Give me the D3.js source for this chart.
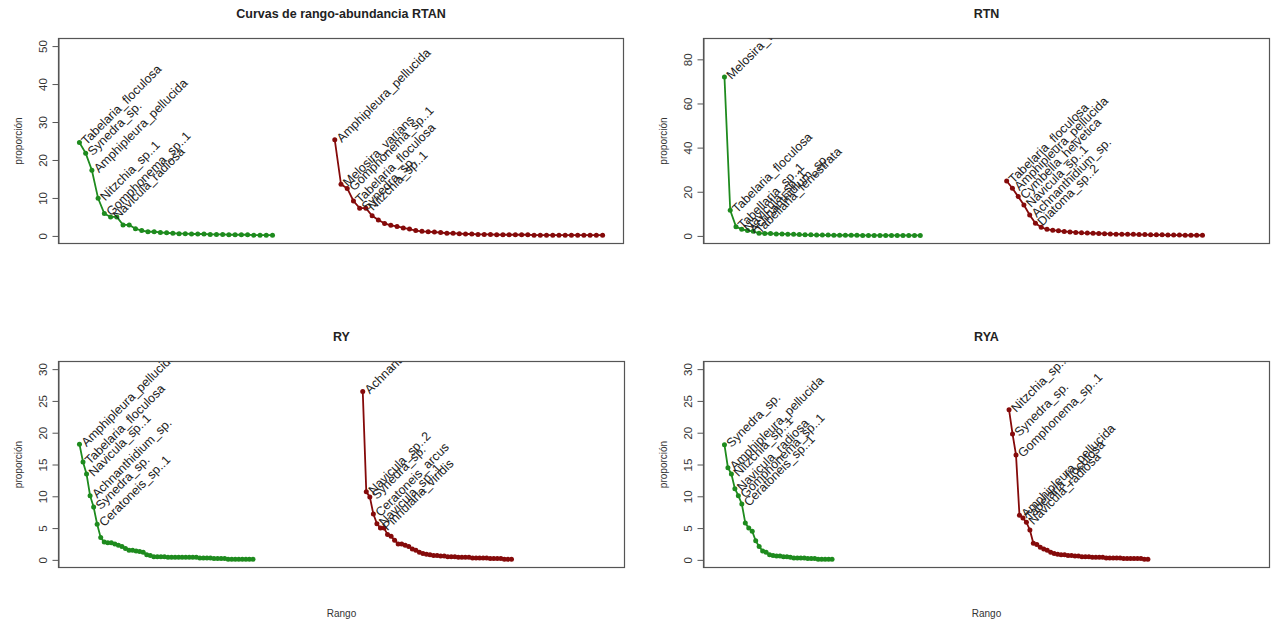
<!DOCTYPE html>
<html>
<head>
<meta charset="utf-8">
<script src="https://cdn.jsdelivr.net/npm/d3@7"></script>
<style>
  html, body { margin: 0; padding: 0; background: #fff; }
  svg { display: block; font-family: "Liberation Sans", Arial, sans-serif; }
</style>
</head>
<body>
<svg id="chart" width="1273" height="624"></svg>
<script>
// ---------------- DATA ----------------
const panelTitles = ["Curvas de rango-abundancia RTAN", "RTN", "RY", "RYA"];
const yTicksRTAN = [0, 10, 20, 30, 40, 50];
const yTicksRTN = [0, 20, 40, 60, 80];
const yTicksRY = [0, 5, 10, 15, 20, 25, 30];
const yTicksRYA = [0, 5, 10, 15, 20, 25, 30];

// RTAN
const rtanGreen = [24.6, 21.8, 17.3, 9.9, 5.9, 5.0, 5.0, 2.9, 2.9, 1.9, 1.4, 1.1, 1.1, 0.9, 0.8, 0.7, 0.6, 0.6, 0.5, 0.5, 0.5, 0.4, 0.4, 0.4, 0.3, 0.3, 0.3, 0.3, 0.2, 0.2, 0.2, 0.2];
const rtanRed = [25.3, 13.6, 12.5, 9.2, 7.3, 7.3, 5.3, 4.2, 3.3, 2.8, 2.5, 2.1, 1.8, 1.4, 1.2, 1.1, 1.0, 0.9, 0.7, 0.7, 0.6, 0.5, 0.5, 0.4, 0.4, 0.4, 0.3, 0.3, 0.3, 0.3, 0.3, 0.3, 0.2, 0.2, 0.2, 0.2, 0.2, 0.2, 0.2, 0.2, 0.2, 0.2, 0.2, 0.2];
const rtanGreenLabels = ["Tabelaria_floculosa", "Synedra_sp.", "Amphipleura_pellucida", "Nitzchia_sp..1", "Gomphonema_sp..1", "Navicula_radiosa"];
const rtanRedLabels = ["Amphipleura_pellucida", "Melosira_varians", "Gomphonema_sp..1", "Tabelaria_floculosa", "Synedra_sp.", "Nitzchia_sp..1"];

// RTN
const rtnGreen = [72.0, 11.6, 4.2, 3.0, 2.4, 2.1, 1.2, 1.1, 1.1, 0.9, 0.9, 0.8, 0.7, 0.6, 0.5, 0.5, 0.4, 0.4, 0.4, 0.3, 0.3, 0.3, 0.3, 0.3, 0.2, 0.2, 0.2, 0.2, 0.2, 0.2, 0.2, 0.2, 0.2, 0.2, 0.2];
const rtnRed = [24.9, 21.6, 17.8, 14.0, 9.5, 5.7, 3.9, 3.0, 2.6, 2.3, 2.0, 1.8, 1.6, 1.4, 1.3, 1.2, 1.1, 1.0, 0.9, 0.8, 0.8, 0.7, 0.7, 0.6, 0.6, 0.5, 0.5, 0.5, 0.4, 0.4, 0.4, 0.3, 0.3, 0.3, 0.3];
const rtnGreenLabels = ["Melosira_varians", "Tabelaria_floculosa", "Tabellaria_sp..1", "Navicula_sp..1", "Achnanthidium_sp.", "Tabellaria_fenestrata"];
const rtnRedLabels = ["Tabelaria_floculosa", "Amphipleura_pellucida", "Cymbella_helvetica", "Navicula_sp..1", "Achnanthidium_sp.", "Diatoma_sp..2"];

// RY
const ryGreen = [18.2, 15.4, 13.5, 10.1, 8.3, 5.6, 3.5, 2.8, 2.7, 2.7, 2.5, 2.3, 2.1, 1.8, 1.5, 1.5, 1.4, 1.3, 1.2, 0.8, 0.7, 0.5, 0.5, 0.5, 0.5, 0.4, 0.4, 0.4, 0.4, 0.4, 0.4, 0.4, 0.4, 0.4, 0.3, 0.3, 0.3, 0.3, 0.2, 0.2, 0.2, 0.2, 0.1, 0.1, 0.1, 0.1, 0.1, 0.1, 0.1, 0.1];
const ryRed = [26.5, 10.7, 9.9, 7.2, 5.7, 5.0, 5.0, 4.0, 3.7, 3.1, 2.5, 2.5, 2.3, 2.1, 1.7, 1.5, 1.2, 1.0, 0.9, 0.8, 0.7, 0.7, 0.6, 0.6, 0.5, 0.5, 0.5, 0.4, 0.4, 0.4, 0.4, 0.3, 0.3, 0.3, 0.3, 0.3, 0.2, 0.2, 0.2, 0.2, 0.1, 0.1, 0.1];
const ryGreenLabels = ["Amphipleura_pellucida", "Tabelaria_floculosa", "Navicula_sp..1", "Achnanthidium_sp.", "Synedra_sp.", "Ceratoneis_sp..1"];
const ryRedLabels = ["Achnanthidium_sp.", "Navicula_sp..2", "Synedra_sp.", "Ceratoneis_arcus", "Navicula_sp..1", "Pinnularia_viridis"];

// RYA
const ryaGreen = [18.1, 14.5, 13.5, 11.2, 10.1, 8.8, 5.8, 5.0, 4.5, 3.0, 2.1, 1.4, 1.2, 0.8, 0.7, 0.6, 0.6, 0.5, 0.5, 0.4, 0.3, 0.3, 0.3, 0.3, 0.2, 0.2, 0.2, 0.1, 0.1, 0.1, 0.1, 0.1];
const ryaRed = [23.6, 19.8, 16.5, 7.0, 6.6, 5.9, 4.7, 2.6, 2.4, 2.0, 1.7, 1.5, 1.2, 1.0, 0.9, 0.8, 0.8, 0.7, 0.7, 0.6, 0.6, 0.5, 0.5, 0.5, 0.4, 0.4, 0.4, 0.4, 0.3, 0.3, 0.3, 0.3, 0.3, 0.2, 0.2, 0.2, 0.2, 0.2, 0.2, 0.1, 0.1];
const ryaGreenLabels = ["Synedra_sp.", "Amphipleura_pellucida", "Nitzchia_sp..1", "Navicula_radiosa", "Gomphonema_sp..1", "Ceratoneis_sp..1"];
const ryaRedLabels = ["Nitzchia_sp..1", "Synedra_sp.", "Gomphonema_sp..1", "Amphipleura_pellucida", "Tabelaria_floculosa", "Navicula_radiosa"];

// rank where second curve starts, x-limits, y-limits
const redStartRank = [42, 50, 81, 83];
const xLimMax = [85, 92, 149, 152];
const yLimMax = [50, 86, 30, 30];

// ---------------- LAYOUT ----------------
const boxes = [
  {x0: 58.5, x1: 623.5, y0: 38.5, y1: 243.5},
  {x0: 703.5, x1: 1269.5, y0: 38.5, y1: 243.5},
  {x0: 58.5, x1: 624.5, y0: 361.5, y1: 567.5},
  {x0: 703.5, x1: 1269.5, y0: 361.5, y1: 567.5}
];
const panels = [
  {green: rtanGreen, red: rtanRed, gl: rtanGreenLabels, rl: rtanRedLabels, ticks: yTicksRTAN, xlab: false},
  {green: rtnGreen, red: rtnRed, gl: rtnGreenLabels, rl: rtnRedLabels, ticks: yTicksRTN, xlab: false},
  {green: ryGreen, red: ryRed, gl: ryGreenLabels, rl: ryRedLabels, ticks: yTicksRY, xlab: true},
  {green: ryaGreen, red: ryaRed, gl: ryaGreenLabels, rl: ryaRedLabels, ticks: yTicksRYA, xlab: true}
];
const GREEN = "#1e8b1e";
const RED = "#850a0a";

const svg = d3.select("#chart");
const defs = svg.append("defs");

panels.forEach((p, i) => {
  const b = boxes[i];
  // R-style 4% axis extension
  const xr = xLimMax[i] - 1;
  const yr = yLimMax[i];
  const x = d3.scaleLinear().domain([1 - 0.04 * xr, xLimMax[i] + 0.04 * xr]).range([b.x0, b.x1]);
  const y = d3.scaleLinear().domain([-0.04 * yr, yr * 1.04]).range([b.y1, b.y0]);

  const g = svg.append("g");
  const clipId = "clip" + i;
  defs.append("clipPath").attr("id", clipId)
    .append("rect").attr("x", b.x0).attr("y", b.y0).attr("width", b.x1 - b.x0).attr("height", b.y1 - b.y0);

  // box
  g.append("rect").attr("x", b.x0).attr("y", b.y0).attr("width", b.x1 - b.x0).attr("height", b.y1 - b.y0)
    .attr("fill", "none").attr("stroke", "#555").attr("stroke-width", 1.2);

  // y axis
  const ax = d3.axisLeft(y).tickValues(p.ticks).tickSizeOuter(0).tickSizeInner(6).tickFormat(d3.format("d"));
  const axG = g.append("g").attr("transform", `translate(${b.x0},0)`).call(ax);
  axG.select(".domain").attr("stroke", "#555");
  axG.selectAll(".tick line").attr("stroke", "#555");
  axG.selectAll(".tick text")
    .attr("x", 0).attr("dy", "0.35em")
    .attr("transform", "translate(-15.5,0) rotate(-90)")
    .attr("text-anchor", "middle")
    .attr("font-size", 11.5).attr("fill", "#333")
    .attr("font-family", "Liberation Sans, Arial, sans-serif");

  // y label
  g.append("text")
    .attr("transform", `translate(${b.x0 - 40},${(b.y0 + b.y1) / 2}) rotate(-90)`)
    .attr("text-anchor", "middle").attr("dy", "0.35em")
    .attr("font-size", 10).attr("fill", "#333").text("proporción");

  // title
  g.append("text")
    .attr("x", (b.x0 + b.x1) / 2).attr("y", b.y0 - 21)
    .attr("text-anchor", "middle").attr("font-weight", "bold")
    .attr("font-size", 12.5).attr("fill", "#222").text(panelTitles[i]);

  if (p.xlab) {
    g.append("text")
      .attr("x", (b.x0 + b.x1) / 2).attr("y", b.y1 + 49)
      .attr("text-anchor", "middle").attr("font-size", 10).attr("fill", "#333").text("Rango");
  }

  const plotG = g.append("g").attr("clip-path", `url(#${clipId})`);
  const series = [
    {vals: p.green, start: 1, color: GREEN, labels: p.gl},
    {vals: p.red, start: redStartRank[i], color: RED, labels: p.rl}
  ];
  series.forEach(s => {
    const pts = s.vals.map((v, k) => ({r: s.start + k, v}));
    const line = d3.line().x(d => x(d.r)).y(d => y(d.v));
    plotG.append("path").datum(pts).attr("d", line)
      .attr("fill", "none").attr("stroke", s.color).attr("stroke-width", 1.8);
    plotG.selectAll(null).data(pts).enter().append("circle")
      .attr("cx", d => x(d.r)).attr("cy", d => y(d.v)).attr("r", 2.5)
      .attr("fill", s.color);
    plotG.selectAll(null).data(pts.slice(0, s.labels.length)).enter().append("text")
      .attr("transform", d => `translate(${x(d.r) + 4},${y(d.v)}) rotate(-45)`)
      .attr("dy", "0.35em").attr("text-anchor", "start")
      .attr("font-size", 12.5).attr("fill", "#222")
      .text((d, k) => s.labels[k]);
  });
});
</script>
</body>
</html>
